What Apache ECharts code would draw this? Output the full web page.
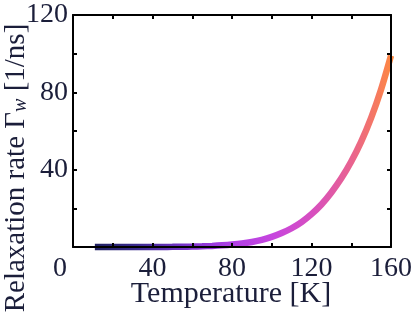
<!DOCTYPE html>
<html>
<head>
<meta charset="utf-8">
<script src="https://cdn.jsdelivr.net/npm/echarts@6/dist/echarts.min.js"></script>
<style>
html,body{margin:0;padding:0;background:#fff;}
#chart{width:415px;height:314px;}
</style>
</head>
<body>
<div id="chart"></div>
<script>
// Temperature [K]
const temperature = [11, 15, 20, 25, 30, 35, 40, 45, 50, 55, 60, 65, 70, 75, 80, 85, 90, 95, 100, 105, 110, 115, 120, 125, 130, 135, 140, 145, 150, 155, 160];
// Relaxation rate Γw [1/ns]
const relaxationRate = [0, 0, 0, 0.001, 0.004, 0.01, 0.02, 0.04, 0.07, 0.13, 0.22, 0.36, 0.56, 0.85, 1.25, 1.8, 2.6, 3.7, 5.2, 7.2, 9.7, 12.9, 17.0, 22.0, 28.2, 35.5, 44.2, 54.5, 66.8, 81.5, 99];
const xTickLabels = [40, 80, 120, 160];
const yTickLabels = [40, 80, 120];
const xName = 'Temperature [K]';
const yName = 'Relaxation rate Γ{sub|w} [1/ns]';

const textColor = '#1b1e3a';
const fontFamily = 'Liberation Serif';

const chart = echarts.init(document.getElementById('chart'), null, {renderer: 'canvas'});

const axisCommon = {
  type: 'value',
  interval: 20,
  axisLine: {show: true, onZero: false, lineStyle: {color: '#000', width: 2}},
  axisTick: {show: true, inside: true, length: 4, lineStyle: {color: '#000', width: 2}},
  splitLine: {show: false},
  z: 5
};

const option = {
  backgroundColor: '#fff',
  animation: false,
  grid: {left: 73, right: 22, top: 15, bottom: 67, containLabel: false},
  xAxis: [
    Object.assign({}, axisCommon, {
      position: 'bottom', min: 0, max: 160,
      axisLabel: {
        margin: 8, color: textColor, fontFamily: fontFamily, fontSize: 28,
        formatter: v => xTickLabels.indexOf(v) >= 0 ? String(v) : ''
      }
    }),
    Object.assign({}, axisCommon, {
      position: 'top', min: 0, max: 160, axisLabel: {show: false}
    })
  ],
  yAxis: [
    Object.assign({}, axisCommon, {
      position: 'left', min: 0, max: 120,
      axisLabel: {
        margin: 5, color: textColor, fontFamily: fontFamily, fontSize: 28,
        formatter: v => yTickLabels.indexOf(v) >= 0 ? String(v) : ''
      }
    }),
    Object.assign({}, axisCommon, {
      position: 'right', min: 0, max: 120, axisLabel: {show: false}
    })
  ],
  series: [{
    type: 'line',
    xAxisIndex: 0,
    yAxisIndex: 0,
    data: temperature.map((t, i) => [t, relaxationRate[i]]),
    smooth: 0.3,
    showSymbol: false,
    clip: false,
    z: 2,
    lineStyle: {
      width: 6.5,
      cap: 'butt',
      color: new echarts.graphic.LinearGradient(0, 0, 1, 0, [
        {offset: 0, color: '#1c1f5c'},
        {offset: 0.15, color: '#3a2a8e'},
        {offset: 0.3, color: '#7433c6'},
        {offset: 0.45, color: '#ac3fe6'},
        {offset: 0.6, color: '#c746de'},
        {offset: 0.73, color: '#d74fbf'},
        {offset: 0.86, color: '#e9638f'},
        {offset: 1, color: '#ff8a3d'}
      ])
    }
  }],
  graphic: [
    {
      type: 'text', x: 60, y: 255, z: 10,
      style: {text: '0', fill: textColor, font: '28px "Liberation Serif"', align: 'center', verticalAlign: 'top'}
    },
    {
      type: 'text', x: 231, y: 294, z: 10,
      style: {text: xName, fill: textColor, font: '30px "Liberation Serif"', align: 'center', verticalAlign: 'middle'}
    },
    {
      type: 'text', x: 16, y: 168, rotation: Math.PI / 2, z: 10,
      style: {
        text: yName, fill: textColor, font: '29px "Liberation Serif"', align: 'center', verticalAlign: 'middle',
        rich: {
          sub: {fontSize: 20, fontStyle: 'italic', fontFamily: 'Liberation Serif', fill: textColor, padding: [10, 0, 0, 0]}
        }
      }
    }
  ]
};

chart.setOption(option);
</script>
</body>
</html>
